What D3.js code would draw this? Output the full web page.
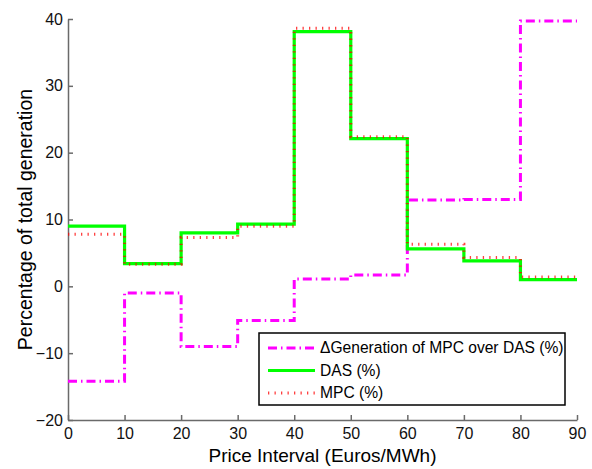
<!DOCTYPE html>
<html lang="en">
<head>
    <meta charset="UTF-8">
    <title>Generation by price interval</title>
    <script src="https://cdn.jsdelivr.net/npm/d3@7/dist/d3.min.js"></script>
    <style>
        body { margin: 0; background: #fff; }
        svg { font-family: "Liberation Sans", Arial, sans-serif; }
        .axis path, .axis line { stroke: #6a6a6a; stroke-width: 1.5px; }
        .axis text { font-size: 16px; fill: #111; }
    </style>
</head>
<body>
<script>
    // price intervals (left edges) and percentages
    const priceEdges = [0, 10, 20, 30, 40, 50, 60, 70, 80, 90];
    const dasValues = [9.0, 3.4, 8.0, 9.3, 38.1, 22.1, 5.6, 3.8, 1.0];
    const mpcValues = [7.8, 3.3, 7.3, 9.0, 38.6, 22.4, 6.3, 4.3, 1.4];
    const deltaValues = [-14.2, -1.0, -9.0, -5.1, 1.1, 1.7, 12.9, 13.0, 39.7];
    const xTicks = [0, 10, 20, 30, 40, 50, 60, 70, 80, 90];
    const yTicks = [-20, -10, 0, 10, 20, 30, 40];
    const legendLabels = ['\u0394Generation of MPC over DAS (%)', 'DAS (%)', 'MPC (%)'];

    const width = 592;
    const height = 469;
    const margin = {top: 19, right: 15, bottom: 49, left: 68};

    const svg = d3.select('body')
        .append('svg')
        .attr('width', width)
        .attr('height', height);

    const x = d3.scaleLinear().domain([0, 90]).range([margin.left, width - margin.right]);
    const y = d3.scaleLinear().domain([-20, 40]).range([height - margin.bottom, margin.top]);

    // step points: each value held until the next edge
    function steps (vals) {
        let pts = vals.map((v, i) => [priceEdges[i], v]);
        pts.push([priceEdges[vals.length], vals[vals.length - 1]]);
        return pts;
    }

    const line = d3.line()
        .x(d => x(d[0]))
        .y(d => y(d[1]))
        .curve(d3.curveStepAfter);

    // axes, ticks pointing inward
    svg.append('g')
        .attr('class', 'axis')
        .attr('transform', `translate(0,${y(-20)})`)
        .call(d3.axisBottom(x).tickValues(xTicks).tickSizeInner(-5).tickSizeOuter(0).tickPadding(8))
        .call(g => g.selectAll('text').attr('dy', '0.71em'));

    svg.append('g')
        .attr('class', 'axis')
        .attr('transform', `translate(${x(0)},0)`)
        .call(d3.axisLeft(y).tickValues(yTicks).tickSizeInner(-5).tickSizeOuter(0).tickPadding(5)
            .tickFormat(d => d < 0 ? '\u2212' + Math.abs(d) : d));

    const series = [
        {vals: deltaValues, color: '#ff00ff', width: 3, dash: '9,4,1.5,4'},
        {vals: dasValues, color: '#00ff00', width: 3.2, dash: null},
        {vals: mpcValues, color: '#ff0000', width: 3, dash: '1.3,5.2'}
    ];

    series.forEach(s => {
        svg.append('path')
            .datum(steps(s.vals))
            .attr('d', line)
            .attr('fill', 'none')
            .attr('stroke', s.color)
            .attr('stroke-width', s.width)
            .attr('stroke-dasharray', s.dash)
            .attr('opacity', s.dash === '1.3,5.2' ? 0.75 : 1);
    });

    // legend
    const lg = svg.append('g');
    lg.append('rect')
        .attr('x', 259).attr('y', 333)
        .attr('width', 306).attr('height', 72)
        .attr('fill', '#fff')
        .attr('stroke', '#000')
        .attr('stroke-width', 1.5);

    series.forEach((s, i) => {
        const yy = 348 + i * 22.5;
        lg.append('line')
            .attr('x1', 268).attr('x2', 315)
            .attr('y1', yy).attr('y2', yy)
            .attr('stroke', s.color)
            .attr('stroke-width', s.width)
            .attr('stroke-dasharray', s.dash)
            .attr('opacity', i === 2 ? 0.75 : 1);
        lg.append('text')
            .attr('x', 320).attr('y', yy)
            .attr('dy', '0.35em')
            .style('font-size', '15.6px')
            .text(legendLabels[i]);
    });

    // axis titles
    svg.append('text')
        .attr('x', (x(0) + x(90)) / 2)
        .attr('y', 462)
        .attr('text-anchor', 'middle')
        .style('font-size', '19px')
        .text('Price Interval (Euros/MWh)');

    svg.append('text')
        .attr('transform', `translate(32,${(y(-20) + y(40)) / 2}) rotate(-90)`)
        .attr('text-anchor', 'middle')
        .style('font-size', '19.5px')
        .text('Percentage of total generation');
</script>
</body>
</html>
